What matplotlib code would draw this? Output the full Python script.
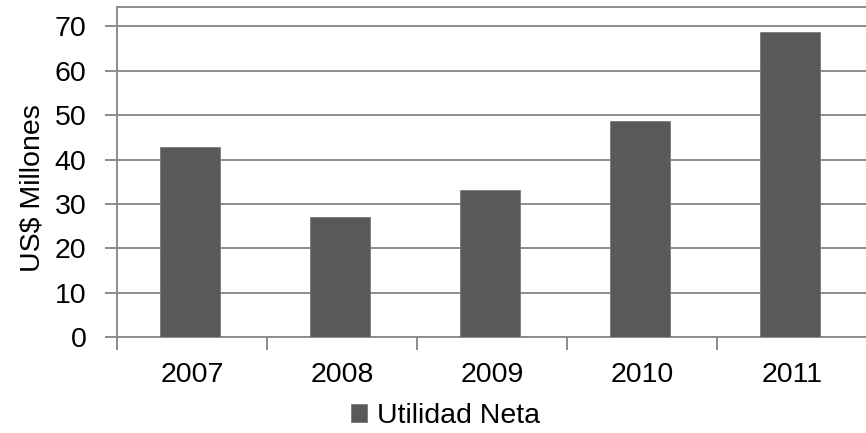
import matplotlib
matplotlib.use("Agg")
import matplotlib.pyplot as plt
import numpy as np

# datos
years = ["2007", "2008", "2009", "2010", "2011"]
utilidad = [42.8, 27.2, 33.2, 48.7, 68.7]
yticks = [0, 10, 20, 30, 40, 50, 60, 70]

plt.rcParams["font.family"] = ["Liberation Sans", "DejaVu Sans"]
fs = 20.5

fig = plt.figure(figsize=(8.66, 4.33), dpi=100)
ax = fig.add_axes([117/866, 1 - 337.3/433, 750/866, (337.3 - 6.5)/433])

x = np.arange(len(years))
ax.bar(x - 0.015, utilidad, width=0.4, color="#595959", edgecolor="#7a7a7a", linewidth=0.6,
       zorder=3, label="Utilidad Neta")

ax.set_xlim(-0.5, len(years) - 0.5)
ax.set_ylim(0, 74.5)
ax.set_yticks(yticks)
ax.set_yticklabels([str(v) for v in yticks], fontsize=fs)
ax.yaxis.grid(True, color="#8c8c8c", linewidth=1.4, zorder=0)

# etiquetas de categoria centradas, ticks en los limites
ax.set_xticks(np.arange(-0.5, len(years)), minor=False)
ax.set_xticklabels([])
ax.set_xticks(x, minor=True)
ax.set_xticklabels(years, minor=True, fontsize=fs)
ax.tick_params(axis="x", which="major", length=9, width=1.4, color="#8c8c8c", direction="out")
ax.tick_params(axis="x", which="minor", length=0, pad=18)
ax.tick_params(axis="y", length=9, width=1.4, color="#8c8c8c", pad=13)

for s in ["left", "bottom", "top"]:
    ax.spines[s].set_color("#8c8c8c")
    ax.spines[s].set_linewidth(1.4)
ax.spines["right"].set_visible(False)

ax.set_ylabel("US$ Millones", fontsize=fs)
ax.yaxis.set_label_coords(-(117 - 45) / 750, (337.3 - 188) / 330.8)

fig.legend(loc="center", bbox_to_anchor=(445.5/866, 1 - 416/433), frameon=False,
           fontsize=fs, handlelength=0.56, handleheight=0.55, handletextpad=0.35)

fig.savefig("out.png", dpi=100)
